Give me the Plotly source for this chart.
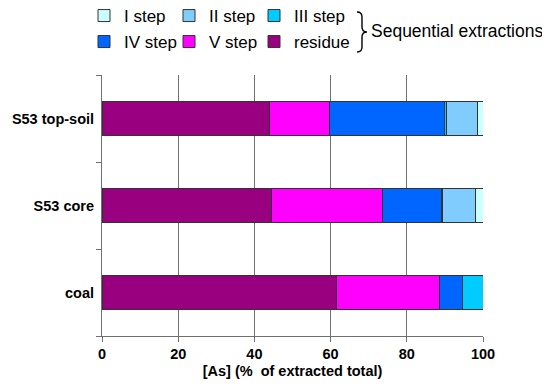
import plotly.graph_objects as go

categories = ["coal", "S53 core", "S53 top-soil"]
residue = [61.6, 44.5, 43.9]
step5 = [26.9, 29.0, 15.9]
step4 = [6.2, 15.6, 30.0]
step3 = [5.3, 0.3, 0.7]
step2 = [0.0, 8.7, 8.1]
step1 = [0.0, 1.9, 1.4]

FONT = "Liberation Sans, Arial, sans-serif"
OFF = 8  # default body margin of the page
WIN_W, WIN_H = 550, 384
W, H = WIN_W - OFF, WIN_H - OFF
# desired plot area in window pixels
PX0, PX1, PY0, PY1 = 102, 483, 75, 336
L, T = PX0 - OFF, PY0 - OFF
R = W - (PX1 - OFF)
B = H - (PY1 - OFF)
PW, PH = PX1 - PX0, PY1 - PY0


def px(x):  # window px -> paper
    return (x - PX0) / PW


def py(y):
    return (PY1 - y) / PH


# (name, values, colour, legend id, legend item left x, legend row y) in window px
series = [
    ("residue", residue, "#990080", "legend6", 254, 42),
    ("V step", step5, "#FF00FF", "legend5", 169, 42),
    ("IV step", step4, "#0066FF", "legend4", 84, 42),
    ("III step", step3, "#00CCFF", "legend3", 254, 16),
    ("II step", step2, "#80CCFF", "legend2", 169, 16),
    ("I step", step1, "#CCFFFF", "legend", 84, 16),
]

fig = go.Figure()
legends = {}
for name, vals, col, lg, lx, ly in series:
    fig.add_trace(go.Bar(
        y=categories, x=vals, name=name, orientation="h",
        marker=dict(color=col, line=dict(color="#333333", width=1)),
        legend=lg, showlegend=True,
    ))
    legends[lg] = dict(x=px(lx), y=py(ly), xanchor="left", yanchor="middle",
                       orientation="h", visible=True,
                       font=dict(family=FONT, size=17, color="black"),
                       bgcolor="rgba(0,0,0,0)", itemclick=False,
                       itemdoubleclick=False)

# brace path
pts = [("M", 357, 12), ("Q", 362, 12, 362, 17), ("L", 362, 27), ("Q", 362, 32, 367, 32),
       ("Q", 362, 32, 362, 37), ("L", 362, 47), ("Q", 362, 52, 357, 52)]
path = ""
for p in pts:
    cmd = p[0]
    coords = p[1:]
    s = []
    for i in range(0, len(coords), 2):
        s.append(f"{px(coords[i]):.4f},{py(coords[i+1]):.4f}")
    path += cmd + " " + " ".join(s) + " "

fig.add_shape(type="path", path=path.strip(), xref="paper", yref="paper",
              line=dict(color="black", width=1.4))

fig.add_annotation(x=px(369), y=py(31), xref="paper", yref="paper",
                   text="Sequential extractions", showarrow=False,
                   xanchor="left", yanchor="middle",
                   font=dict(family=FONT, size=17.5, color="black"))

fig.update_layout(
    width=W, height=H,
    showlegend=True,
    margin=dict(l=L, r=R, t=T, b=B, autoexpand=False),
    barmode="stack", bargap=0.61,
    plot_bgcolor="white", paper_bgcolor="white",
    **legends,
    xaxis=dict(
        range=[0, 100], tickvals=[0, 20, 40, 60, 80, 100],
        showgrid=True, gridcolor="#707070", gridwidth=1,
        showline=True, linecolor="#707070", linewidth=1,
        ticks="outside", ticklen=5, tickcolor="#707070",
        tickfont=dict(family=FONT, size=14.5, color="black", weight="bold"),
        title=dict(text="[As] (%  of extracted total)", standoff=4,
                   font=dict(family=FONT, size=14.5, color="black", weight="bold")),
        zeroline=False, fixedrange=True, automargin=False,
    ),
    yaxis=dict(
        categoryorder="array", categoryarray=categories, type="category",
        range=[-0.5, 2.5],
        showgrid=False, showline=True, linecolor="#707070", linewidth=1,
        ticks="outside", tickson="boundaries", ticklen=5, tickcolor="#707070",
        tickfont=dict(family=FONT, size=14.5, color="black", weight="bold"),
        ticksuffix=" ", fixedrange=True, automargin=False,
    ),
)

fig.write_html("out.html")
